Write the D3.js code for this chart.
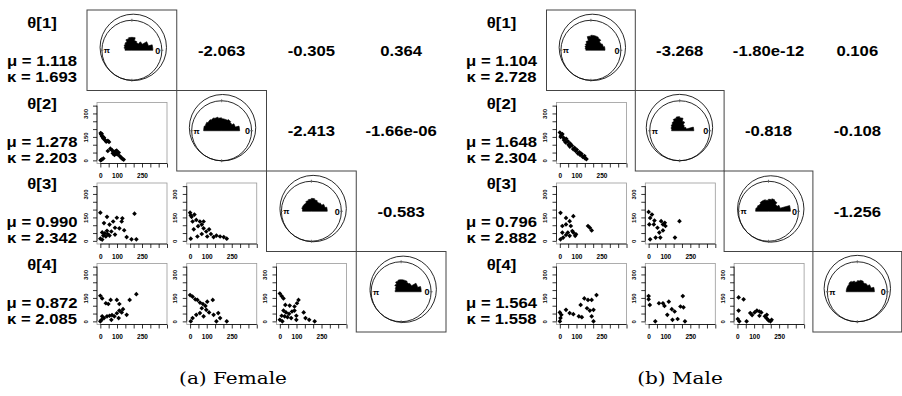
<!DOCTYPE html>
<html>
<head>
<meta charset="utf-8">
<script src="https://cdn.jsdelivr.net/npm/d3@7"></script>
<style>
  body { margin: 0; background: #fff; }
  svg { display: block; }
</style>
</head>
<body>
<div id="chart"></div>
<script>
// ---- data ----
const varNames = ["θ[1]", "θ[2]", "θ[3]", "θ[4]"];

const femaleMu = [1.118, 1.278, 0.990, 0.872];
const femaleKappa = [1.693, 2.203, 2.342, 2.085];
const femaleCorr = [["-2.063", "-0.305", "0.364"], ["-2.413", "-1.66e-06"], ["-0.583"]];

const maleMu = [1.104, 1.648, 0.796, 1.564];
const maleKappa = [2.728, 2.304, 2.882, 1.558];
const maleCorr = [["-3.268", "-1.80e-12", "0.106"], ["-0.818", "-0.108"], ["-1.256"]];

// rose diagram bin heights (15 degree bins from 0 to 180), relative to circle radius
const roseFemale = [
  [0.70, 0.57, 0.40, 0.30, 0.33, 0.43, 0.43, 0.40, 0.33, 0.30, 0.27, 0.23],
  [0.60, 0.47, 0.40, 0.43, 0.40, 0.40, 0.43, 0.47, 0.50, 0.53, 0.57, 0.60],
  [0.53, 0.47, 0.40, 0.37, 0.40, 0.43, 0.40, 0.37, 0.33, 0.33, 0.33, 0.30],
  [0.67, 0.57, 0.40, 0.37, 0.40, 0.40, 0.40, 0.37, 0.30, 0.23, 0.20, 0.20]
];
const roseMale = [
  [0.47, 0.43, 0.40, 0.47, 0.50, 0.50, 0.47, 0.33, 0.27, 0.23, 0.20, 0.17],
  [0.47, 0.23, 0.20, 0.23, 0.33, 0.43, 0.47, 0.43, 0.37, 0.33, 0.30, 0.27],
  [0.73, 0.40, 0.33, 0.40, 0.43, 0.40, 0.37, 0.40, 0.40, 0.37, 0.40, 0.43],
  [0.57, 0.47, 0.40, 0.37, 0.40, 0.37, 0.33, 0.37, 0.40, 0.37, 0.37, 0.37]
];

// scatter pairs [column angle, row angle] in degrees
const female21 = [[2,175],[5,165],[8,170],[10,155],[15,150],[18,140],[22,145],[28,130],[35,120],[45,125],[52,118],
  [60,75],[45,60],[70,65],[75,45],[80,55],[85,35],[90,58],[95,42],[98,62],[105,38],[110,50],[118,25],[125,18],
  [132,10],[140,5],[2,0],[8,5],[18,12]];
const female31 = [[0,180],[40,154],[77,124],[99,148],[128,124],[132,144],[55,104],[22,114],[88,84],[114,80],
  [143,68],[40,64],[66,60],[11,54],[26,48],[44,44],[18,34],[33,28],[55,34],[0,14],[11,8],[88,40],[158,24],
  [187,10],[216,10],[205,174]];
const female32 = [[0,180],[4,164],[9,154],[26,168],[37,134],[59,124],[70,104],[48,94],[22,74],[81,80],[97,60],
  [114,74],[70,44],[44,28],[4,14],[125,44],[158,34],[180,28],[202,24],[220,14],[141,24],[103,28],[15,124],[81,124]];
const female41 = [[0,164],[11,147],[33,116],[48,111],[62,137],[99,137],[114,111],[176,137],[216,174],[0,0],[7,10],
  [22,21],[40,32],[55,36],[70,40],[84,32],[99,52],[114,69],[128,57],[136,78],[110,21],[158,42],[11,32],[66,10]];
const female42 = [[0,168],[15,158],[31,141],[44,137],[59,120],[77,111],[92,99],[103,126],[136,137],[70,84],[97,74],
  [114,57],[141,42],[169,53],[180,21],[220,0],[158,0],[15,21],[4,0],[37,42],[59,53],[81,32]];
const female43 = [[0,178],[11,162],[22,147],[33,105],[59,101],[88,95],[103,116],[112,137],[22,69],[37,57],[55,48],
  [73,63],[88,69],[11,36],[29,32],[46,27],[0,10],[15,0],[68,21],[99,10],[143,57],[154,21],[176,10],[209,0],[99,36]];

const male21 = [[0,178],[8,160],[5,150],[15,168],[22,145],[25,130],[38,138],[35,115],[48,122],[52,100],[62,108],
  [60,88],[72,95],[80,72],[88,80],[95,60],[102,68],[108,45],[118,52],[122,35],[130,42],[138,22],[148,28],
  [152,12],[160,8]];
const male31 = [[4,179],[37,147],[59,126],[81,158],[15,95],[37,105],[66,95],[75,63],[15,53],[48,53],[81,53],[97,42],
  [59,32],[37,38],[92,32],[4,10],[20,21],[169,95],[180,84],[191,67]];
const male32 = [[0,185],[20,168],[9,147],[4,105],[31,105],[35,130],[53,84],[75,126],[86,105],[97,116],[101,95],
  [64,53],[86,67],[42,21],[9,10],[70,21],[185,126],[158,21]];
const male41 = [[0,57],[9,42],[4,21],[0,0],[37,74],[59,53],[81,46],[114,32],[132,27],[125,105],[147,147],[163,84],
  [169,137],[191,137],[180,69],[191,32],[202,74],[220,168],[202,0]];
const male42 = [[0,162],[0,141],[7,105],[40,0],[62,116],[86,116],[95,99],[121,126],[112,42],[139,78],[156,63],
  [143,10],[174,15],[191,95],[209,90],[205,162],[218,0]];
const male43 = [[7,153],[37,141],[7,69],[2,15],[11,0],[55,0],[77,53],[88,40],[103,57],[117,69],[132,63],[143,57],
  [132,36],[165,32],[176,19],[187,6],[198,0],[205,10],[176,42]];

const xTicks = [0, 50, 100, 150, 200, 250, 300, 350, 400];
const xTickLabels = [0, 100, 250];
const yTicks = [0, 50, 100, 150, 200, 250, 300, 350];
const yTickLabels = [0, 150, 300];

// ---- layout ----
const width = 902, height = 396;
const TOP = 10, cellH = 80.5, R = 30;
const stretch = 1.15;
const sans = "'Liberation Sans', Arial, Helvetica, sans-serif";

const svg = d3.select("#chart").append("svg")
  .attr("width", width)
  .attr("height", height);

const x = d3.scaleLinear().domain([-20, 400]).range([0, 70]);
const y = d3.scaleLinear().domain([-20, 370]).range([61, 0]);
const roseR = d3.scaleLinear().domain([0, 1]).range([0, R]);
const binW = Math.PI / 12;
// radial outline: angle measured from 12 o'clock clockwise
const roseLine = d3.lineRadial()
  .angle(d => d[0])
  .radius(d => d[1]);

function roseOutline(bins) {
  const pts = [[0, 0]];
  bins.forEach((v, k) => {
    const a0 = Math.PI / 2 - k * binW, a1 = Math.PI / 2 - (k + 1) * binW;
    pts.push([a0, roseR(v)], [(a0 + a1) / 2, roseR(v)], [a1, roseR(v)]);
  });
  return roseLine(pts) + "Z";
}

function boldText(g, tx, ty, s, size) {
  g.append("text")
    .attr("transform", `translate(${tx},${ty}) scale(${stretch},1)`)
    .attr("text-anchor", "middle")
    .style("font-family", sans)
    .attr("font-weight", "bold")
    .attr("font-size", size)
    .text(s);
}

function drawPanel(p) {
  const g = svg.append("g");
  const left = c => p.x0 + c * p.w;
  const top = r => TOP + r * cellH;

  // row labels
  for (let r = 0; r < 4; r++) {
    const lx = p.x0 - 45;
    boldText(g, lx, top(r) + 18, varNames[r], 14.5);
    boldText(g, lx, top(r) + 56, `μ = ${p.mu[r].toFixed(3)}`, 14.5);
    boldText(g, lx, top(r) + 72, `κ = ${p.kappa[r].toFixed(3)}`, 14.5);
  }

  // diagonal: circular plots
  for (let i = 0; i < 4; i++) {
    const cell = g.append("g").attr("transform", `translate(${left(i)},${top(i)})`);
    cell.append("rect")
      .attr("width", p.w).attr("height", cellH)
      .attr("fill", "none").attr("stroke", "#444").attr("stroke-width", 1);

    const c = cell.append("g").attr("transform", `translate(${p.w / 2},${cellH / 2})`);
    c.append("circle").attr("r", R)
      .attr("fill", "none").attr("stroke", "#111").attr("stroke-width", 0.9);
    // fitted density outline, pushed toward the mean direction
    c.append("circle")
      .attr("cx", 3.2 * Math.cos(p.mu[i]))
      .attr("cy", -3.2 * Math.sin(p.mu[i]))
      .attr("r", R + 3.2)
      .attr("fill", "none").attr("stroke", "#111").attr("stroke-width", 0.9);

    // cardinal ticks
    [0, Math.PI / 2, Math.PI, 3 * Math.PI / 2].forEach(a => {
      c.append("line")
        .attr("x1", (R - 1.5) * Math.cos(a)).attr("y1", -(R - 1.5) * Math.sin(a))
        .attr("x2", (R + 1.5) * Math.cos(a)).attr("y2", -(R + 1.5) * Math.sin(a))
        .attr("stroke", "#555").attr("stroke-width", 0.8);
    });

    // rose diagram as one outline (no seams between bins)
    c.append("path")
      .attr("d", roseOutline(p.rose[i]))
      .attr("fill", "#000")
      .attr("stroke", "#000")
      .attr("stroke-width", 0.6)
      .attr("stroke-linejoin", "round");

    c.append("text").attr("x", -R + 5).attr("y", 3)
      .style("font-family", sans)
      .attr("font-size", 8).attr("font-weight", "bold")
      .attr("text-anchor", "middle").text("π");
    c.append("text").attr("x", R - 4).attr("y", 3.5)
      .style("font-family", sans)
      .attr("font-size", 9).attr("font-weight", "bold")
      .attr("text-anchor", "middle").text("0");
  }

  // upper triangle: numbers
  p.corr.forEach((row, r) => {
    row.forEach((s, k) => {
      const col = r + 1 + k;
      boldText(g, left(col) + p.w / 2, top(r) + cellH / 2 + 5.5, s, 14.5);
    });
  });

  // lower triangle: scatter plots
  p.pairs.forEach(([r, col, data]) => {
    const sg = g.append("g").attr("transform", `translate(${left(col) + 10},${top(r) + 12})`);

    sg.append("rect")
      .attr("width", 70).attr("height", 61)
      .attr("fill", "none").attr("stroke", "#999").attr("stroke-width", 0.8);

    const ya = sg.append("g")
      .call(d3.axisLeft(y).tickValues(yTicks).tickSize(4)
        .tickFormat(d => yTickLabels.includes(d) ? d : ""));
    ya.select(".domain").remove();
    ya.selectAll("line").attr("stroke", "#000").attr("stroke-width", 0.8);
    ya.selectAll("text")
      .attr("transform", "rotate(-90)")
      .attr("x", 0).attr("y", -9.5).attr("dy", 0)
      .attr("text-anchor", "middle")
      .attr("font-size", 6).attr("font-weight", "bold")
      .style("font-family", sans);
    sg.append("line")
      .attr("x1", 0).attr("x2", 0)
      .attr("y1", y(0)).attr("y2", y(350))
      .attr("stroke", "#000").attr("stroke-width", 0.8);

    const xa = sg.append("g")
      .attr("transform", "translate(0,61)")
      .call(d3.axisBottom(x).tickValues(xTicks).tickSize(4)
        .tickFormat(d => xTickLabels.includes(d) ? d : ""));
    xa.select(".domain").remove();
    xa.selectAll("line").attr("stroke", "#000").attr("stroke-width", 0.8);
    xa.selectAll("text")
      .attr("y", 10)
      .attr("font-size", 6.5).attr("font-weight", "bold")
      .style("font-family", sans);
    sg.append("line")
      .attr("x1", x(0)).attr("x2", x(400))
      .attr("y1", 61).attr("y2", 61)
      .attr("stroke", "#000").attr("stroke-width", 0.8);

    sg.selectAll("path.pt")
      .data(data)
      .join("path")
      .attr("class", "pt")
      .attr("transform", d => `translate(${x(d[0])},${y(d[1])})`)
      .attr("d", d3.symbol().type(d3.symbolDiamond2 || d3.symbolDiamond).size(14))
      .attr("fill", "#000");
  });

  // caption
  svg.append("text")
    .attr("transform", `translate(${p.capX},384) scale(1.18,1)`)
    .attr("text-anchor", "middle")
    .style("font-family", "'DejaVu Serif', 'Liberation Serif', serif")
    .attr("font-size", 17)
    .text(p.caption);
}

drawPanel({
  x0: 87, w: 89.75,
  mu: femaleMu, kappa: femaleKappa, corr: femaleCorr, rose: roseFemale,
  pairs: [[1, 0, female21], [2, 0, female31], [2, 1, female32], [3, 0, female41], [3, 1, female42], [3, 2, female43]],
  caption: "(a) Female", capX: 233
});

drawPanel({
  x0: 546.5, w: 88.8,
  mu: maleMu, kappa: maleKappa, corr: maleCorr, rose: roseMale,
  pairs: [[1, 0, male21], [2, 0, male31], [2, 1, male32], [3, 0, male41], [3, 1, male42], [3, 2, male43]],
  caption: "(b) Male", capX: 680
});
</script>
</body>
</html>
